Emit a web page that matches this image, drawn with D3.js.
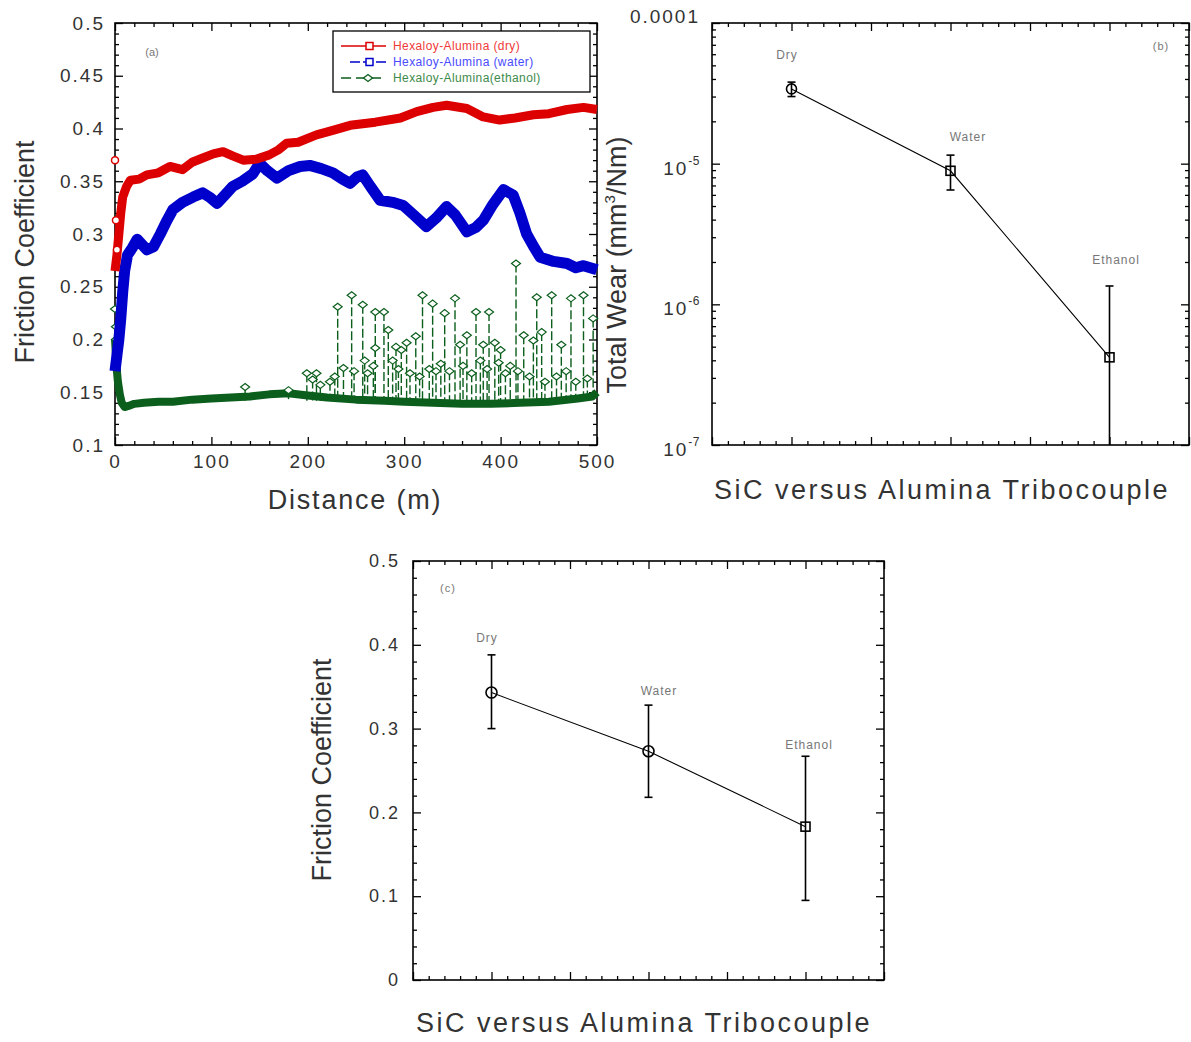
<!DOCTYPE html>
<html>
<head>
<meta charset="utf-8">
<script src="https://cdn.jsdelivr.net/npm/d3@7"></script>
<style>
  body { margin: 0; background: #fff; }
  text { font-family: "Liberation Sans", Arial, sans-serif; }
</style>
</head>
<body>
<div id="chart"></div>
<script>
// ---- panel (a): friction vs distance, [distance m, friction] ----
const dryCurve = [[0,0.265],[2,0.28],[4,0.30],[6,0.32],[8,0.335],[12,0.345],[16,0.351],[25,0.352],[33,0.356],
  [45,0.358],[57,0.364],[70,0.361],[80,0.368],[91,0.372],[102,0.376],[112,0.378],[122,0.374],[133,0.370],
  [147,0.371],[160,0.375],[170,0.380],[178,0.386],[190,0.387],[209,0.394],[225,0.398],[244,0.403],[270,0.406],
  [296,0.410],[313,0.416],[330,0.420],[344,0.422],[365,0.419],[382,0.411],[399,0.408],[415,0.410],[434,0.413],
  [450,0.414],[469,0.418],[486,0.420],[500,0.418]];
const dryOutliers = [[0,0.37],[1,0.313],[2,0.285]];

const waterCurve = [[0,0.17],[2,0.185],[4,0.20],[6,0.22],[8,0.245],[10,0.265],[13,0.28],[18,0.287],[23,0.295],
  [28,0.29],[33,0.285],[40,0.288],[47,0.30],[54,0.313],[60,0.323],[70,0.33],[81,0.335],[91,0.339],[98,0.335],
  [106,0.329],[114,0.337],[122,0.345],[132,0.35],[143,0.357],[150,0.367],[158,0.36],[168,0.353],[180,0.36],
  [192,0.364],[202,0.365],[214,0.362],[226,0.358],[236,0.352],[244,0.348],[251,0.354],[257,0.356],[265,0.345],
  [275,0.332],[288,0.33],[299,0.327],[310,0.318],[323,0.307],[333,0.315],[344,0.326],[353,0.318],[365,0.302],
  [374,0.306],[382,0.313],[392,0.328],[403,0.342],[413,0.337],[420,0.32],[427,0.30],[435,0.287],[441,0.278],
  [455,0.274],[469,0.272],[478,0.268],[486,0.27],[493,0.268],[500,0.266]];

const ethanolBase = [[0,0.20],[1,0.185],[2,0.17],[3,0.16],[5,0.148],[7,0.14],[10,0.136],[14,0.137],[20,0.139],
  [30,0.140],[45,0.141],[60,0.141],[80,0.143],[100,0.144],[120,0.145],[140,0.146],[160,0.148],[180,0.149],
  [200,0.147],[220,0.145],[250,0.143],[280,0.142],[300,0.141],[330,0.140],[360,0.139],[390,0.139],[420,0.140],
  [450,0.141],[480,0.144],[495,0.146],[500,0.150]];
const ethanolStart = [[0,0.229],[1,0.212],[1,0.20],[2,0.19]];
const ethanolSpikes = [[135,0.155],[180,0.152],[199,0.168],[209,0.168],[213,0.157],[223,0.160],[231,0.231],
  [237,0.173],[245.5,0.242],[257,0.233],[259,0.18],[270,0.226],[270,0.192],[279,0.226],[283.5,0.209],
  [291.5,0.193],[297,0.19],[302.5,0.197],[312,0.203],[319,0.242],[329.5,0.234],[333,0.17],[342,0.225],
  [352.7,0.239],[358,0.195],[365,0.204],[374.5,0.226],[382,0.195],[388,0.226],[394,0.197],[400,0.19],
  [416,0.272],[424,0.204],[434,0.199],[437.5,0.24],[442.6,0.207],[453,0.242],[463,0.195],[473,0.239],
  [486,0.242],[496,0.22],[205,0.162],[228,0.165],[248,0.17],[262,0.168],[268,0.175],[288,0.18],[294,0.172],
  [306,0.168],[316,0.165],[326,0.172],[338,0.177],[347,0.17],[361,0.175],[370,0.168],[379,0.18],[386,0.172],
  [398,0.178],[405,0.168],[410,0.175],[418,0.17],[430,0.165],[446,0.16],[458,0.165],[468,0.17],[478,0.16],[490,0.163]];

const legendNames = ["Hexaloy-Alumina (dry)", "Hexaloy-Alumina (water)", "Hexaloy-Alumina(ethanol)"];
const distTicks = [0, 100, 200, 300, 400, 500];
const frictionTicksA = [0.1, 0.15, 0.2, 0.25, 0.3, 0.35, 0.4, 0.45, 0.5];

// ---- panels (b) and (c): per condition ----
const conditions = ["Dry", "Water", "Ethanol"];
const conditionPos = [1, 3, 5];
const wear = [3.4e-5, 8.9e-6, 4.2e-7];
const wearLow = [3.0e-5, 6.5e-6, 1e-8];
const wearHigh = [3.8e-5, 1.15e-5, 1.35e-6];
const wearTicks = [1e-7, 1e-6, 1e-5, 1e-4];
const friction = [0.343, 0.273, 0.183];
const frictionLow = [0.300, 0.218, 0.095];
const frictionHigh = [0.388, 0.328, 0.267];
const frictionTicksC = [0, 0.1, 0.2, 0.3, 0.4, 0.5];

const svg = d3.select("#chart").append("svg")
  .attr("width", 1191).attr("height", 1042);

const TXT = "#333";

function drawAxes(g, x, y, o) {
  const [left, right] = x.range();
  const [bottom, top] = y.range();
  const parts = [
    [d3.axisBottom(x), `translate(0,${bottom})`, o.xMajor, 8],
    [d3.axisBottom(x), `translate(0,${bottom})`, o.xMinor, 4],
    [d3.axisTop(x), `translate(0,${top})`, o.xMajor, 8],
    [d3.axisTop(x), `translate(0,${top})`, o.xMinor, 4],
    [d3.axisLeft(y), `translate(${left},0)`, o.yMajor, 8],
    [d3.axisLeft(y), `translate(${left},0)`, o.yMinor, 4],
    [d3.axisRight(y), `translate(${right},0)`, o.yMajor, 8],
    [d3.axisRight(y), `translate(${right},0)`, o.yMinor, 4]
  ];
  parts.forEach(([ax, tr, vals, len]) => {
    g.append("g").attr("transform", tr)
      .call(ax.tickValues(vals).tickSize(-len).tickFormat(""))
      .call(s => s.select(".domain").remove())
      .selectAll("line").attr("stroke", "#000").attr("stroke-width", 1.3);
  });
  g.append("rect")
    .attr("x", left).attr("y", top)
    .attr("width", right - left).attr("height", bottom - top)
    .attr("fill", "none").attr("stroke", "#000").attr("stroke-width", 1.6);
}

function labelAxis(g, axis, tr, size) {
  const a = g.append("g").attr("transform", tr).call(axis)
    .call(s => s.select(".domain").remove());
  a.selectAll("line").remove();
  a.selectAll("text")
    .attr("font-family", '"Liberation Sans", Arial, sans-serif')
    .attr("font-size", size).attr("fill", TXT)
    .attr("letter-spacing", 2);
  return a;
}

function title(g, txt, x, y, rotate, spacing) {
  return g.append("text")
    .attr("transform", `translate(${x},${y})` + (rotate ? " rotate(-90)" : ""))
    .attr("text-anchor", "middle")
    .attr("font-size", 27).attr("fill", TXT)
    .attr("letter-spacing", spacing)
    .text(txt);
}

function note(g, txt, x, y) {
  g.append("text").attr("x", x).attr("y", y)
    .attr("text-anchor", "middle")
    .attr("font-size", 12).attr("fill", "#777")
    .attr("letter-spacing", 1)
    .text(txt);
}

// ================= panel (a) =================
const gA = svg.append("g");
const xA = d3.scaleLinear().domain([0, 500]).range([115, 597]);
const yA = d3.scaleLinear().domain([0.1, 0.5]).range([445, 23]);

drawAxes(gA, xA, yA, {
  xMajor: distTicks,
  xMinor: d3.range(0, 501, 20).filter(v => v % 100 !== 0),
  yMajor: frictionTicksA,
  yMinor: d3.range(10, 51).map(v => v / 100).filter(v => Math.round(v * 100) % 5 !== 0)
});
labelAxis(gA, d3.axisBottom(xA).tickValues(distTicks).tickSize(0).tickPadding(10), `translate(0,445)`, 19);
labelAxis(gA, d3.axisLeft(yA).tickValues(frictionTicksA).tickSize(0).tickPadding(10)
  .tickFormat(d => String(+d.toFixed(2))), `translate(115,0)`, 19);

const lineA = d3.line().x(d => xA(d[0])).y(d => yA(d[1]));

// ethanol spikes (dashed verticals with diamond tops)
const diamond = "M-4.5,0L0,-3.5L4.5,0L0,3.5Z";
gA.append("g").selectAll("line").data(ethanolSpikes).join("line")
  .attr("x1", d => xA(d[0])).attr("x2", d => xA(d[0]))
  .attr("y1", d => yA(d[1])).attr("y2", yA(0.142))
  .attr("stroke", "#0b5e1c").attr("stroke-width", 1.4)
  .attr("stroke-dasharray", "9,3");

gA.append("path").datum(ethanolBase).attr("d", lineA)
  .attr("fill", "none").attr("stroke", "#0b5e1c").attr("stroke-width", 8)
  .attr("stroke-linejoin", "round");

gA.append("g").selectAll("path").data(ethanolSpikes.concat(ethanolStart)).join("path")
  .attr("d", diamond)
  .attr("transform", d => `translate(${xA(d[0])},${yA(d[1])})`)
  .attr("fill", "#fff").attr("stroke", "#0b5e1c").attr("stroke-width", 1.2);

gA.append("path").datum(waterCurve).attr("d", lineA)
  .attr("fill", "none").attr("stroke", "#0000cc").attr("stroke-width", 11)
  .attr("stroke-linejoin", "round");

gA.append("path").datum(dryCurve).attr("d", lineA)
  .attr("fill", "none").attr("stroke", "#dd0000").attr("stroke-width", 9)
  .attr("stroke-linejoin", "round");

gA.append("g").selectAll("circle").data(dryOutliers).join("circle")
  .attr("cx", d => xA(d[0])).attr("cy", d => yA(d[1])).attr("r", 3.5)
  .attr("fill", "#fff").attr("stroke", "#dd0000").attr("stroke-width", 1.5);

// legend
const leg = gA.append("g");
leg.append("rect").attr("x", 333).attr("y", 31).attr("width", 257).attr("height", 61)
  .attr("fill", "#fff").attr("stroke", "#000").attr("stroke-width", 1.3);
const legColors = ["#dd0000", "#0000cc", "#0b5e1c"];
const legText = ["#f03a3a", "#4a4aff", "#3d8a4a"];
const legDash = [null, "10,3", "10,5"];
legendNames.forEach((name, i) => {
  const y = 46 + i * 16;
  leg.append("line").attr("x1", i === 1 ? 350 : 341).attr("x2", 386).attr("y1", y).attr("y2", y)
    .attr("stroke", legColors[i]).attr("stroke-width", 1.6).attr("stroke-dasharray", legDash[i]);
  if (i < 2) {
    leg.append("rect").attr("x", 366).attr("y", y - 3.5).attr("width", 7).attr("height", 7)
      .attr("fill", "#fff").attr("stroke", legColors[i]).attr("stroke-width", 1.5);
  } else {
    leg.append("path").attr("d", diamond).attr("transform", `translate(368,${y})`)
      .attr("fill", "#fff").attr("stroke", legColors[i]).attr("stroke-width", 1.3);
  }
  leg.append("text").attr("x", 393).attr("y", y + 4)
    .attr("font-size", 12).attr("fill", legText[i]).attr("letter-spacing", 0.4)
    .text(name);
});

gA.append("text").attr("x", 152).attr("y", 56).attr("text-anchor", "middle")
  .attr("font-size", 11).attr("fill", "#777").text("(a)");
title(gA, "Distance (m)", 355, 509, false, 1.8);
title(gA, "Friction Coefficient", 34, 252, true, 0);

// ================= panel (b) =================
const gB = svg.append("g");
const xB = d3.scaleLinear().domain([0, 6]).range([712, 1189]);
const yB = d3.scaleLog().domain([1e-7, 1e-4]).range([445, 23]).clamp(true);

const logMinor = [];
[1e-7, 1e-6, 1e-5].forEach(p => d3.range(2, 10).forEach(k => logMinor.push(p * k)));
drawAxes(gB, xB, yB, {
  xMajor: d3.range(0, 7),
  xMinor: d3.range(0, 31).map(v => v / 5).filter(v => v % 1 !== 0),
  yMajor: wearTicks,
  yMinor: logMinor
});
const wearLab = labelAxis(gB, d3.axisLeft(yB).tickValues(wearTicks).tickSize(0).tickPadding(12)
  .tickFormat(""), `translate(712,0)`, 19);
wearLab.selectAll("text").each(function(d) {
  const t = d3.select(this);
  if (d >= 1e-4) {
    t.text("0.0001").attr("dy", "-0.05em");
  } else {
    t.text("10").attr("dy", "0.55em");
    t.append("tspan").attr("dy", -10).attr("font-size", 12)
      .attr("letter-spacing", 0.5).text(Math.round(Math.log10(d)));
  }
});

const lineB = d3.line().x((d, i) => xB(conditionPos[i])).y(d => yB(d));
gB.append("path").datum(wear).attr("d", lineB)
  .attr("fill", "none").attr("stroke", "#000").attr("stroke-width", 1.1);

conditions.forEach((c, i) => {
  const cx = xB(conditionPos[i]);
  gB.append("line").attr("x1", cx).attr("x2", cx)
    .attr("y1", yB(wearHigh[i])).attr("y2", yB(wearLow[i]))
    .attr("stroke", "#000").attr("stroke-width", 1.6);
  [wearHigh[i], wearLow[i]].forEach(v => {
    if (v < 1e-7) return;
    gB.append("line").attr("x1", cx - 4).attr("x2", cx + 4)
      .attr("y1", yB(v)).attr("y2", yB(v))
      .attr("stroke", "#000").attr("stroke-width", 1.6);
  });
  const cy = yB(wear[i]);
  if (i === 0) {
    gB.append("circle").attr("cx", cx).attr("cy", cy).attr("r", 5)
      .attr("fill", "none").attr("stroke", "#000").attr("stroke-width", 1.6);
  } else {
    gB.append("rect").attr("x", cx - 4.5).attr("y", cy - 4.5).attr("width", 9).attr("height", 9)
      .attr("fill", "none").attr("stroke", "#000").attr("stroke-width", 1.6);
  }
});
note(gB, "Dry", 787, 59);
note(gB, "Water", 968, 141);
note(gB, "Ethanol", 1116, 264);
gB.append("text").attr("x", 1161).attr("y", 50).attr("text-anchor", "middle")
  .attr("font-size", 11).attr("fill", "#777").attr("letter-spacing", 1).text("(b)");

const tw = title(gB, "Total Wear (mm", 626, 265, true, 0);
tw.append("tspan").attr("dy", -11).attr("font-size", 15).text("3");
tw.append("tspan").attr("dy", 11).text("/Nm)");
title(gB, "SiC versus Alumina Tribocouple", 942, 499, false, 2.5);

// ================= panel (c) =================
const gC = svg.append("g");
const xC = d3.scaleLinear().domain([0, 6]).range([413, 884]);
const yC = d3.scaleLinear().domain([0, 0.5]).range([980, 561]);

drawAxes(gC, xC, yC, {
  xMajor: d3.range(0, 7),
  xMinor: d3.range(0, 31).map(v => v / 5).filter(v => v % 1 !== 0),
  yMajor: frictionTicksC,
  yMinor: d3.range(0, 26).map(v => v / 50).filter(v => Math.round(v * 50) % 5 !== 0)
});
labelAxis(gC, d3.axisLeft(yC).tickValues(frictionTicksC).tickSize(0).tickPadding(13)
  .tickFormat(d => String(+d.toFixed(1))), `translate(413,0)`, 18);

const lineC = d3.line().x((d, i) => xC(conditionPos[i])).y(d => yC(d));
gC.append("path").datum(friction).attr("d", lineC)
  .attr("fill", "none").attr("stroke", "#000").attr("stroke-width", 1.1);

conditions.forEach((c, i) => {
  const cx = xC(conditionPos[i]);
  gC.append("line").attr("x1", cx).attr("x2", cx)
    .attr("y1", yC(frictionHigh[i])).attr("y2", yC(frictionLow[i]))
    .attr("stroke", "#000").attr("stroke-width", 1.6);
  [frictionHigh[i], frictionLow[i]].forEach(v => {
    gC.append("line").attr("x1", cx - 4).attr("x2", cx + 4)
      .attr("y1", yC(v)).attr("y2", yC(v))
      .attr("stroke", "#000").attr("stroke-width", 1.6);
  });
  const cy = yC(friction[i]);
  if (i < 2) {
    gC.append("circle").attr("cx", cx).attr("cy", cy).attr("r", 5.5)
      .attr("fill", "none").attr("stroke", "#000").attr("stroke-width", 1.6);
  } else {
    gC.append("rect").attr("x", cx - 4.5).attr("y", cy - 4.5).attr("width", 9).attr("height", 9)
      .attr("fill", "none").attr("stroke", "#000").attr("stroke-width", 1.6);
  }
});
note(gC, "Dry", 487, 642);
note(gC, "Water", 659, 695);
note(gC, "Ethanol", 809, 749);
gC.append("text").attr("x", 448).attr("y", 592).attr("text-anchor", "middle")
  .attr("font-size", 11).attr("fill", "#777").attr("letter-spacing", 1).text("(c)");

title(gC, "Friction Coefficient", 331, 770, true, 0);
title(gC, "SiC versus Alumina Tribocouple", 644, 1032, false, 2.5);
</script>
</body>
</html>
